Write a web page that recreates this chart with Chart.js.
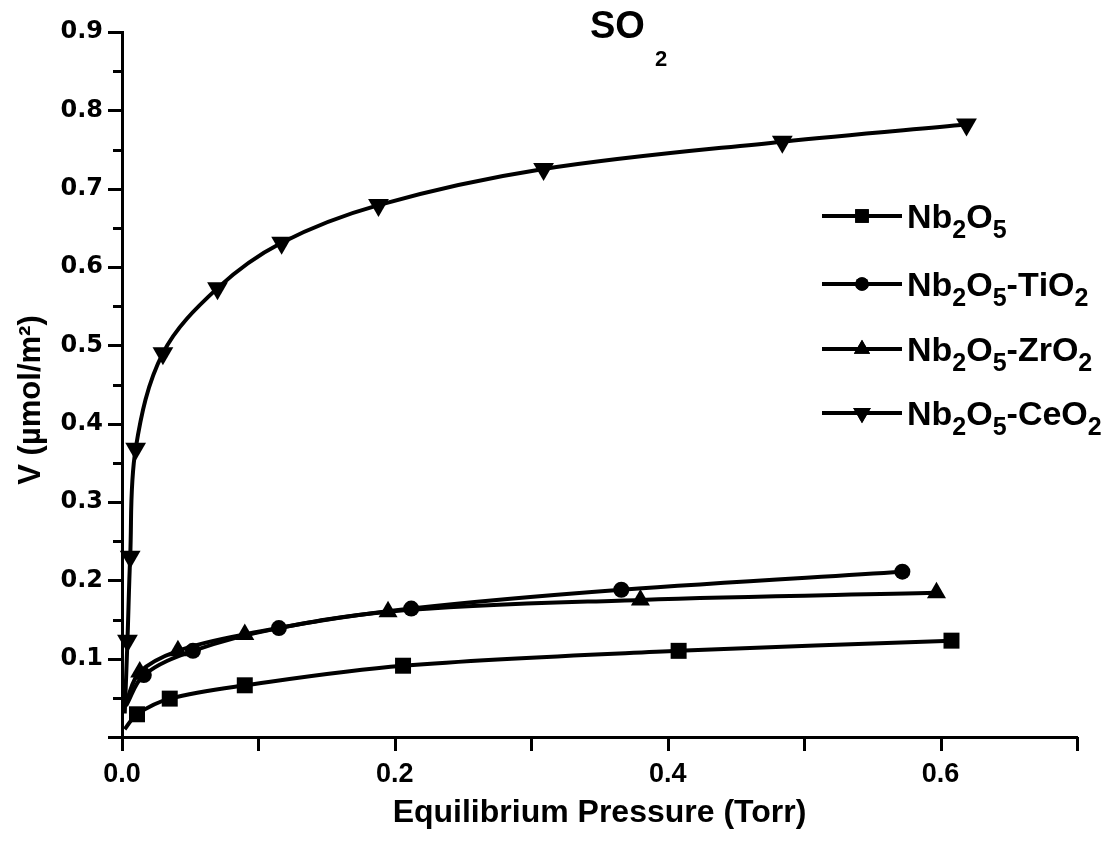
<!DOCTYPE html>
<html><head><meta charset="utf-8">
<script src="https://cdn.jsdelivr.net/npm/chart.js@4.4.1/dist/chart.umd.min.js"></script>
<style>html,body{margin:0;padding:0;background:#fff;}#wrap{width:1119px;height:841px;}</style>
</head><body><div id="wrap"><canvas id="c" width="1119" height="841"></canvas></div>
<script>
// ---- data ----
const chartTitle = 'SO2';
const xAxisTitle = 'Equilibrium Pressure (Torr)';
const yAxisTitle = 'V (µmol/m²)';
const seriesNames = ['Nb2O5', 'Nb2O5-TiO2', 'Nb2O5-ZrO2', 'Nb2O5-CeO2'];
const xTickLabels = ['0.0', '0.2', '0.4', '0.6'];
const yTickLabels = ['0.1', '0.2', '0.3', '0.4', '0.5', '0.6', '0.7', '0.8', '0.9'];

const nbX   = [0.002, 0.011, 0.035, 0.090, 0.206, 0.408, 0.608];
const nbY   = [0.010, 0.029, 0.049, 0.066, 0.091, 0.110, 0.123];
const tiX   = [0.003, 0.016, 0.052, 0.115, 0.212, 0.366, 0.572];
const tiY   = [0.040, 0.079, 0.110, 0.139, 0.164, 0.188, 0.211];
const zrX   = [0.003, 0.013, 0.041, 0.090, 0.195, 0.380, 0.597];
const zrY   = [0.045, 0.083, 0.110, 0.131, 0.160, 0.175, 0.184];
const ceX   = [0.002, 0.004, 0.006, 0.010, 0.030, 0.070, 0.117, 0.188, 0.309, 0.484, 0.619];
const ceY   = [0.030, 0.123, 0.230, 0.368, 0.490, 0.573, 0.631, 0.679, 0.725, 0.760, 0.782];

const styles = [
  {pointStyle: 'rect', radius: 11.3, rotation: 0},
  {pointStyle: 'circle', radius: 8, rotation: 0},
  {pointStyle: 'triangle', radius: 11, rotation: 0},
  {pointStyle: 'triangle', radius: 12, rotation: 180}
];

function pts(xs, ys) { return xs.map((x, i) => ({x: x, y: ys[i]})); }
const seriesData = [pts(nbX, nbY), pts(tiX, tiY), pts(zrX, zrY), pts(ceX, ceY)];

const datasets = seriesData.map((d, i) => ({
  label: seriesNames[i],
  data: d,
  showLine: true,
  borderColor: '#000',
  backgroundColor: '#000',
  borderWidth: 4,
  tension: 0.35,
  pointStyle: styles[i].pointStyle,
  pointRotation: styles[i].rotation,
  pointRadius: d.map((p, j) => j === 0 ? 0 : styles[i].radius),
  pointBorderWidth: 0,
  clip: false
}));

function drawRich(ctx, text, x, y, size, subSize, subDy, family, subGap) {
  let cx = x;
  for (const ch of text) {
    const isSub = /[0-9]/.test(ch);
    if (isSub) cx += (subGap || 0);
    ctx.font = 'bold ' + (isSub ? subSize : size) + 'px ' + family;
    ctx.fillText(ch, cx, isSub ? y + subDy : y);
    cx += ctx.measureText(ch).width;
  }
}

const deco = {
  id: 'deco',
  afterDraw(chart) {
    const ctx = chart.ctx, xs = chart.scales.x, ys = chart.scales.y, ca = chart.chartArea;
    ctx.save();
    ctx.strokeStyle = '#000'; ctx.fillStyle = '#000'; ctx.lineWidth = 3; ctx.lineCap = 'butt';
    ys.ticks.forEach(t => {
      const k = Math.round(t.value * 100);
      const len = (k % 10 === 0) ? 14 : 9;
      const py = Math.round(ys.getPixelForValue(t.value)) + 0.5;
      ctx.beginPath(); ctx.moveTo(ca.left - len, py); ctx.lineTo(ca.left, py); ctx.stroke();
    });
    xs.ticks.forEach(t => {
      const px = Math.round(xs.getPixelForValue(t.value)) + 0.5;
      ctx.beginPath(); ctx.moveTo(px, ca.bottom); ctx.lineTo(px, ca.bottom + 14); ctx.stroke();
    });
    ctx.textBaseline = 'alphabetic'; ctx.textAlign = 'left';
    const fam = "'Liberation Sans', Arial, sans-serif";
    drawRich(ctx, chartTitle, 590, 38, 38, 22, 28, fam, 10);
    ctx.font = 'bold 32px ' + fam; ctx.textAlign = 'center';
    ctx.fillText(xAxisTitle, (ca.left + ca.right) / 2, 822);
    ctx.save(); ctx.translate(40, 400); ctx.rotate(-Math.PI / 2);
    ctx.font = 'bold 31px ' + fam; ctx.fillText(yAxisTitle, 0, 0); ctx.restore();
    ctx.textAlign = 'left';
    const rowY = [216, 284, 349, 413];
    seriesNames.forEach((name, i) => {
      const ly = rowY[i];
      ctx.lineWidth = 4;
      ctx.beginPath(); ctx.moveTo(822, ly); ctx.lineTo(902, ly); ctx.stroke();
      Chart.helpers.drawPoint(ctx, {pointStyle: styles[i].pointStyle, radius: styles[i].radius * 0.85, rotation: styles[i].rotation, borderWidth: 0}, 862, ly);
      ctx.fill();
      drawRich(ctx, name, 907, ly + 12, 34, 25, 10, fam, 0);
    });
    ctx.restore();
  }
};

new Chart(document.getElementById('c'), {
  type: 'scatter',
  data: {datasets: datasets},
  options: {
    responsive: false, animation: false,
    layout: {padding: {top: 32, right: 42, left: 0, bottom: 0}},
    plugins: {legend: {display: false}, tooltip: {enabled: false}, title: {display: false}},
    scales: {
      x: {
        type: 'linear', min: 0, max: 0.7,
        grid: {display: false, drawTicks: true, tickLength: 14},
        border: {display: true, width: 3, color: '#000'},
        ticks: {
          stepSize: 0.1, autoSkip: false, maxRotation: 0, padding: 7, color: '#000',
          font: {family: "'Liberation Sans', Arial, sans-serif", weight: 'bold', size: 27},
          callback: v => { const k = Math.round(v * 10); return k % 2 === 0 ? xTickLabels[k / 2] : ''; }
        },
        afterFit: s => { s.height = 104; }
      },
      y: {
        type: 'linear', min: 0, max: 0.9,
        grid: {display: false, drawTicks: true, tickLength: 14},
        border: {display: true, width: 3, color: '#000'},
        ticks: {
          stepSize: 0.05, autoSkip: false, padding: 5, color: '#000',
          font: {family: "'DejaVu Sans', sans-serif", weight: 'bold', size: 24},
          callback: v => { const k = Math.round(v * 100); return (k % 10 === 0 && k > 0) ? yTickLabels[k / 10 - 1] : ''; }
        },
        afterFit: s => { s.width = 122; }
      }
    }
  },
  plugins: [deco]
});
</script></body></html>
